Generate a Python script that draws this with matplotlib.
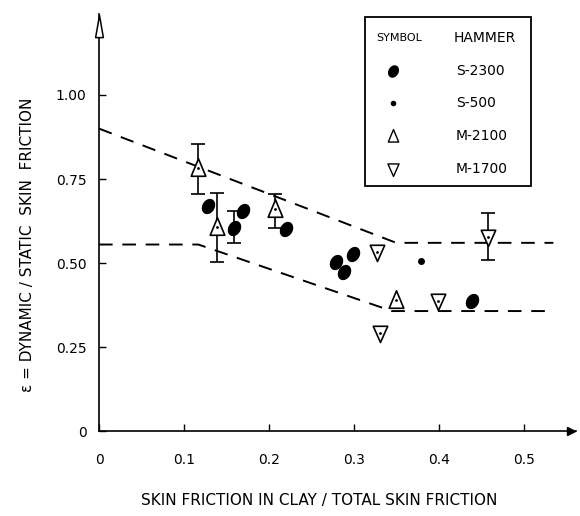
import matplotlib.pyplot as plt
import numpy as np
from matplotlib.patches import Rectangle
from matplotlib.path import Path

# datos
s2300_x = [0.128, 0.159, 0.170, 0.220, 0.279, 0.289, 0.299, 0.439]
s2300_y = [0.670, 0.604, 0.655, 0.601, 0.503, 0.473, 0.527, 0.387]
s500_x = [0.379]
s500_y = [0.506]
m2100_x = [0.117, 0.139, 0.207, 0.350]
m2100_y = [0.783, 0.607, 0.661, 0.390]
m1700_x = [0.327, 0.331, 0.399, 0.458]
m1700_y = [0.533, 0.292, 0.387, 0.578]

# barras de error (x, centro, min, max)
err_x = [0.117, 0.139, 0.159, 0.207, 0.458]
err_y = [0.783, 0.607, 0.604, 0.661, 0.578]
err_lo = [0.705, 0.503, 0.560, 0.604, 0.509]
err_hi = [0.854, 0.708, 0.655, 0.705, 0.649]

# envolventes
upper_x = [0, 0.35, 0.535]
upper_y = [0.90, 0.56, 0.56]
lower_x = [0, 0.117, 0.345, 0.535]
lower_y = [0.555, 0.555, 0.357, 0.357]

x_ticks = [0, 0.1, 0.2, 0.3, 0.4, 0.5]
x_labels = ['0', '0.1', '0.2', '0.3', '0.4', '0.5']
y_ticks = [0, 0.25, 0.50, 0.75, 1.00]
y_labels = ['0', '0.25', '0.50', '0.75', '1.00']

legend_labels = ['S-2300', 'S-500', 'M-2100', 'M-1700']

# marcadores tipo dibujo a mano
tri_up = Path([(0, 1), (-0.75, -0.8), (0.75, -0.8), (0, 1)], closed=True)
tri_dn = Path([(0, -1), (-0.8, 0.8), (0.8, 0.8), (0, -1)], closed=True)
arrow_up = Path([(0, 1), (-0.35, -1), (0.35, -1), (0, 1)], closed=True)
t = np.linspace(0, 2 * np.pi, 40)
ang = np.radians(60)
ex = 1.0 * np.cos(t) * np.cos(ang) - 0.75 * np.sin(t) * np.sin(ang)
ey = 1.0 * np.cos(t) * np.sin(ang) + 0.75 * np.sin(t) * np.cos(ang)
oval = Path(np.column_stack([ex, ey]), closed=True)

fig = plt.figure(figsize=(5.8, 5.16), dpi=100)
ax = fig.add_axes([0.1707, 0.1647, 0.8273, 0.814])
ax.set_xlim(0, 0.565)
ax.set_ylim(0, 1.25)

ax.spines['top'].set_visible(False)
ax.spines['right'].set_visible(False)
ax.spines['left'].set_bounds(0, 1.24)
ax.spines['bottom'].set_bounds(0, 0.562)
for s in ['left', 'bottom']:
    ax.spines[s].set_linewidth(1.2)

# flechas de los ejes
ax.plot([0], [1.205], marker=arrow_up, markersize=16, mfc='white', mec='black', mew=1.1,
        clip_on=False, zorder=5)
ax.plot([0.556], [0], marker='>', markersize=6, color='black', clip_on=False, zorder=5)

ax.plot(upper_x, upper_y, color='black', lw=1.4, dashes=(7, 5))
ax.plot(lower_x, lower_y, color='black', lw=1.4, dashes=(7, 5))

err_y = np.array(err_y)
yerr = [err_y - np.array(err_lo), np.array(err_hi) - err_y]
ax.errorbar(err_x, err_y, yerr=yerr, fmt='none', ecolor='black', elinewidth=1.2,
            capsize=5, capthick=1.2, zorder=2)

ax.plot(s2300_x, s2300_y, marker=oval, ls='none', color='black', markersize=10, zorder=4)
ax.plot(s500_x, s500_y, 'o', color='black', markersize=4, zorder=4)
ax.plot(m2100_x, m2100_y, marker=tri_up, ls='none', mfc='white', mec='black', mew=1.2,
        markersize=14, zorder=4)
ax.plot(m1700_x, m1700_y, marker=tri_dn, ls='none', mfc='white', mec='black', mew=1.2,
        markersize=13, zorder=4)
ax.plot(m2100_x + m1700_x, m2100_y + m1700_y, '.', color='black', markersize=2, zorder=5)

ax.set_xticks(x_ticks)
ax.set_xticklabels(x_labels)
ax.set_yticks(y_ticks)
ax.set_yticklabels(y_labels)
ax.tick_params(direction='in', length=5, width=1, labelsize=10)
ax.tick_params(axis='x', pad=16)
ax.tick_params(axis='y', pad=9)

fig.text(0.55, 0.03, 'SKIN FRICTION IN CLAY / TOTAL SKIN FRICTION', ha='center',
         va='center', fontsize=11)
fig.text(0.048, 0.525, 'ε = DYNAMIC / STATIC  SKIN  FRICTION', rotation=90,
         ha='center', va='center', fontsize=11)

# leyenda dibujada a mano
ax.add_patch(Rectangle((0.313, 0.729), 0.196, 0.503, fill=False, ec='black', lw=1.3,
                       clip_on=False, zorder=6))
ax.text(0.354, 1.170, 'SYMBOL', ha='center', va='center', fontsize=8)
ax.text(0.417, 1.170, 'HAMMER', ha='left', va='center', fontsize=10)
row_y = [1.071, 0.976, 0.878, 0.780]
ax.plot([0.346], [row_y[0]], marker=oval, color='black', markersize=8, clip_on=False)
ax.plot([0.346], [row_y[1]], 'o', color='black', markersize=3, clip_on=False)
ax.plot([0.346], [row_y[2]], marker=tri_up, mfc='white', mec='black', markersize=10,
        clip_on=False)
ax.plot([0.346], [row_y[3]], marker=tri_dn, mfc='white', mec='black', markersize=10,
        clip_on=False)
for lab, yy in zip(legend_labels, row_y):
    ax.text(0.420, yy, lab, ha='left', va='center', fontsize=10)

plt.savefig('out.png', dpi=100)
plt.close()
